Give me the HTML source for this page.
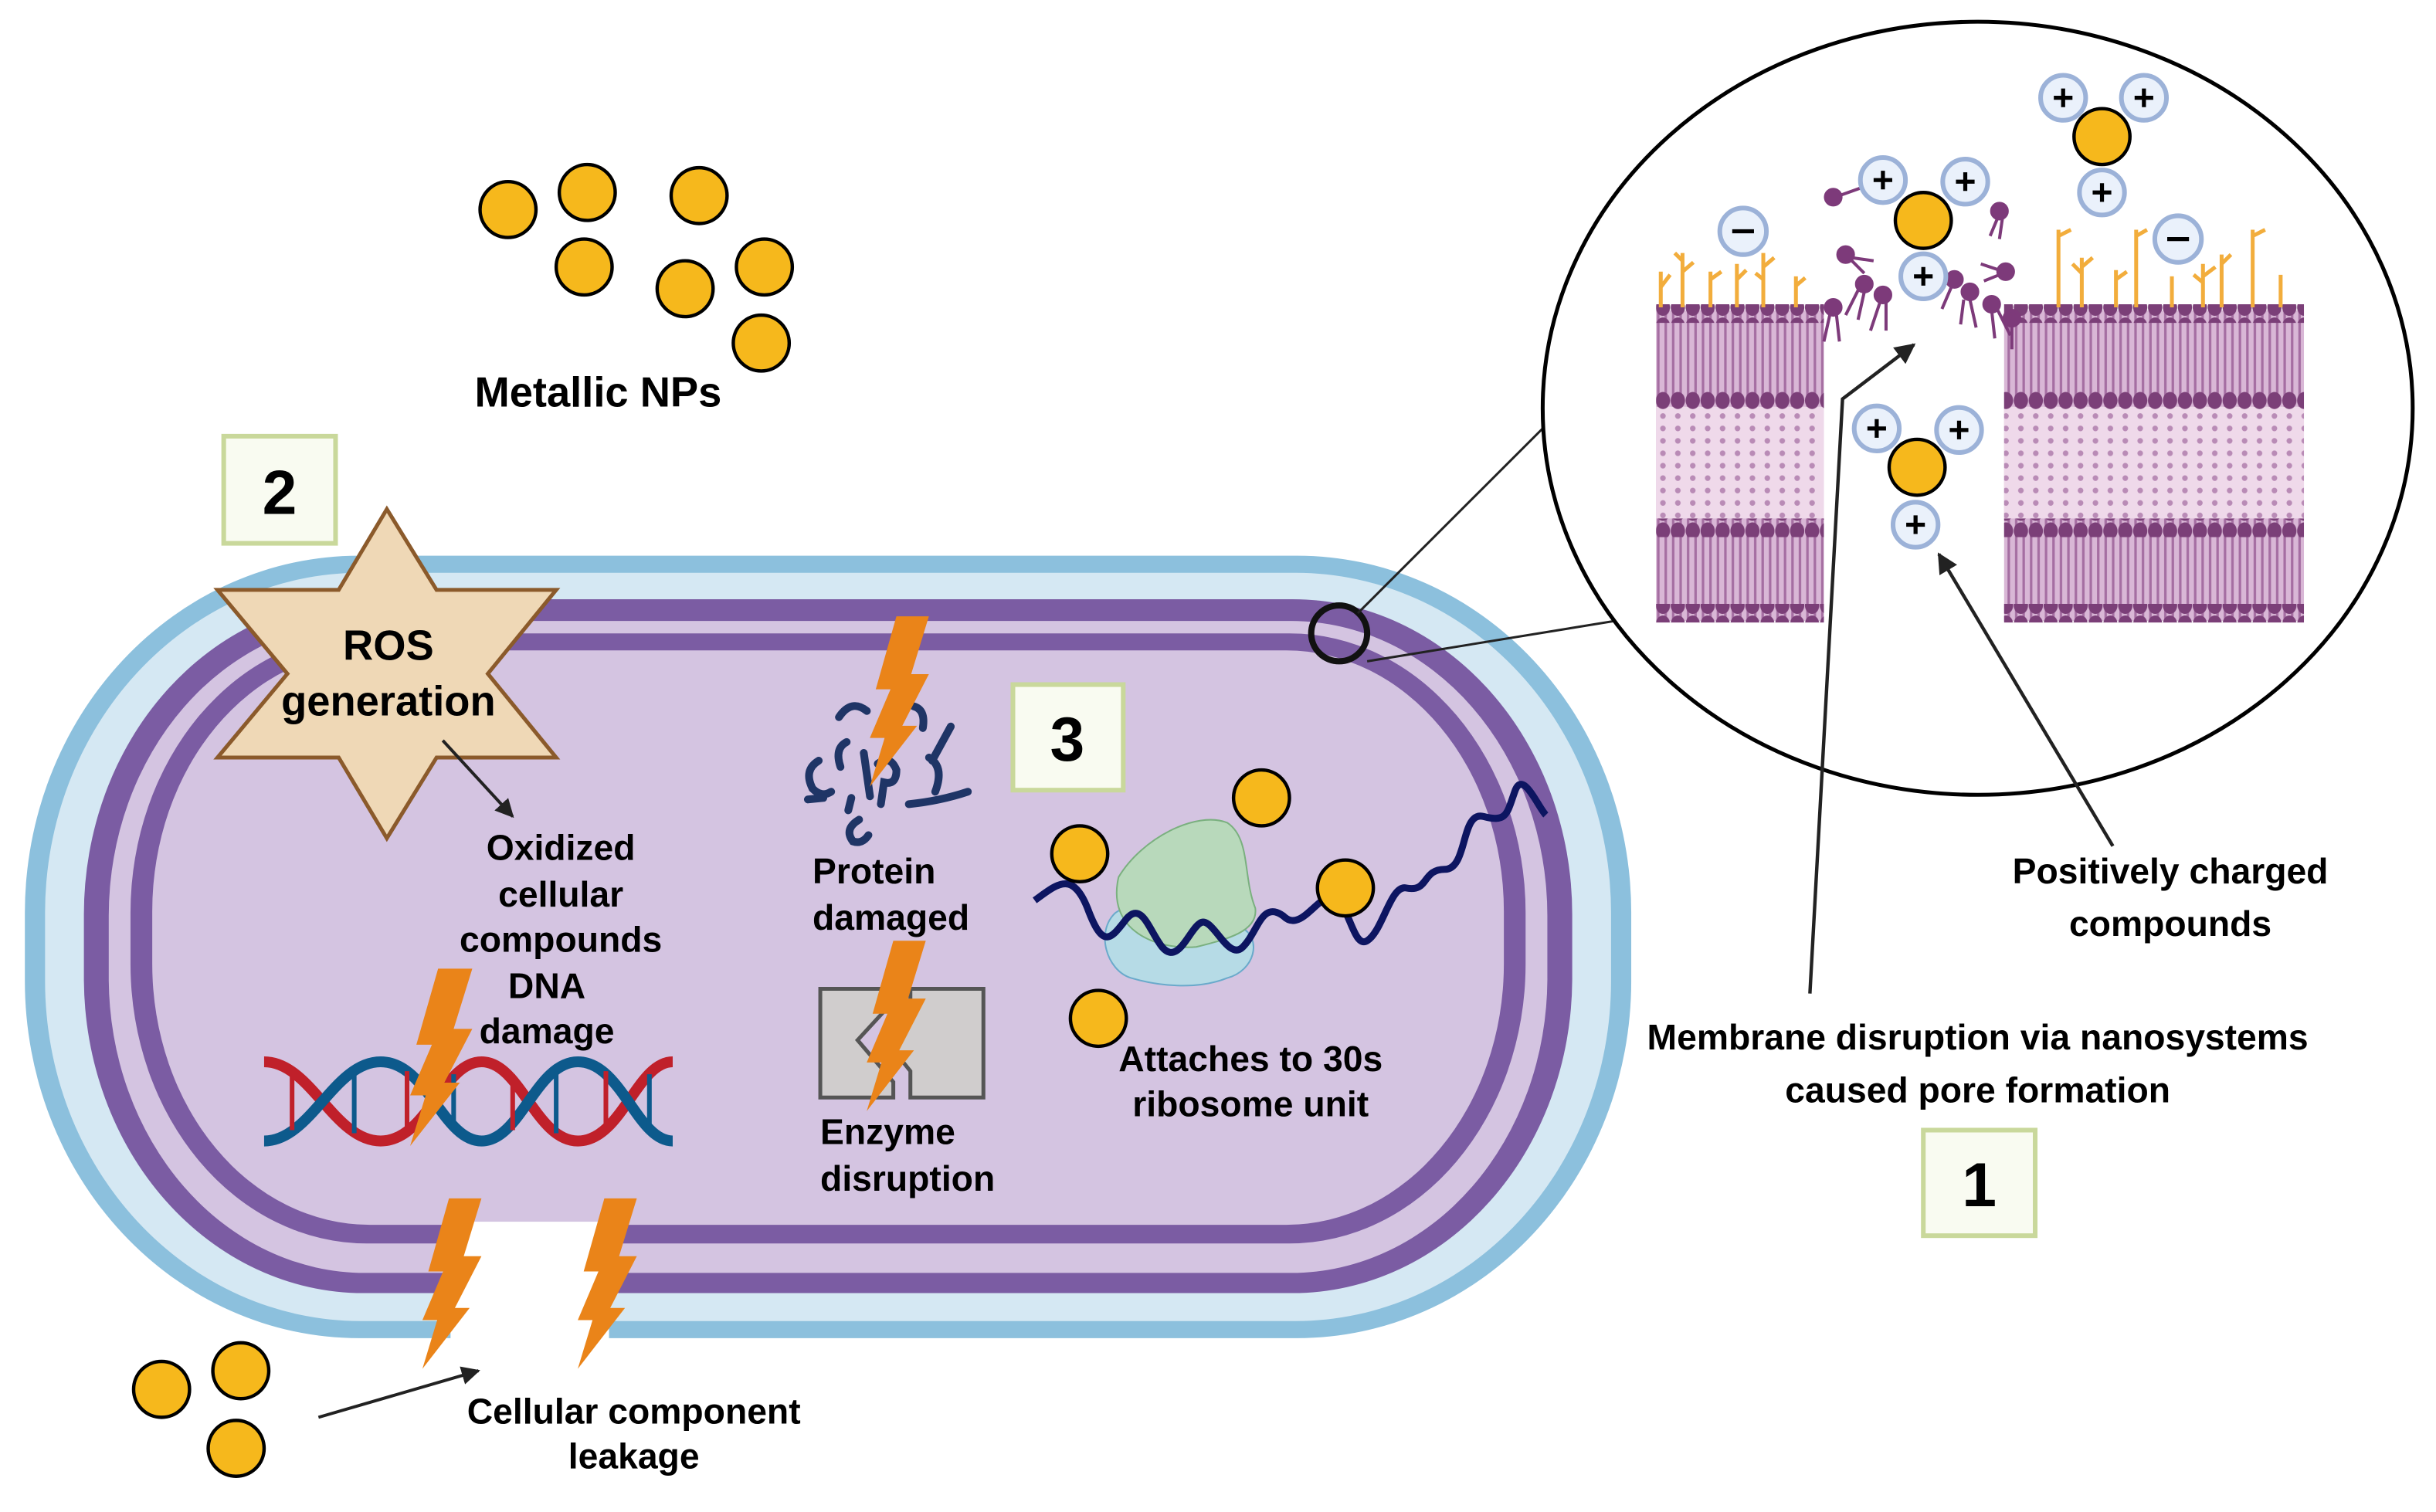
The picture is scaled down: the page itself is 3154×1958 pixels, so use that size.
<!DOCTYPE html>
<html><head><meta charset="utf-8">
<style>
html,body{margin:0;padding:0;background:#fff;}
svg{display:block;}
text{font-family:"Liberation Sans",sans-serif;font-weight:bold;fill:#000;}
</style></head>
<body>
<svg width="3154" height="1958" viewBox="0 0 1568 974" preserveAspectRatio="none" xmlns="http://www.w3.org/2000/svg">
<defs>
  <pattern id="heads" width="9.6" height="12" patternUnits="userSpaceOnUse">
    <ellipse cx="4.8" cy="6" rx="4.6" ry="5.5" fill="#7b3f78"/>
  </pattern>
  <pattern id="tails" width="4.8" height="10" patternUnits="userSpaceOnUse">
    <rect width="4.8" height="10" fill="#d9b7d6"/>
    <rect x="1" width="1.6" height="10" fill="#a56ea2"/>
  </pattern>
  <pattern id="mid" width="9.6" height="8" patternUnits="userSpaceOnUse">
    <rect width="9.6" height="8" fill="#efd9ea"/>
    <circle cx="4.8" cy="4" r="1.8" fill="#b98bb6"/>
  </pattern>
  <polygon id="bolt" points="20,0 42,0 30,38 42,38 24,72 34,72 2,112 12,80 2,80 16,48 6,48" fill="#ea8419"/>
  <g id="plus"><circle r="14.5" fill="#eaf1fb" stroke="#9cb2d8" stroke-width="3"/><path d="M-6,0H6M0,-6V6" stroke="#000" stroke-width="2.6"/></g>
  <g id="minus"><circle r="15" fill="#eaf1fb" stroke="#9cb2d8" stroke-width="3"/><path d="M-7,0H7" stroke="#000" stroke-width="2.6"/></g>
  <marker id="ah" viewBox="0 0 10 10" refX="9" refY="5" markerWidth="6" markerHeight="6" orient="auto">
    <path d="M0,0L10,5L0,10z" fill="#222"/>
  </marker>
</defs>

<!-- Metallic NPs -->
<g fill="#f6b81c" stroke="#000" stroke-width="2.2">
  <circle cx="327" cy="135" r="18"/><circle cx="378" cy="124" r="18"/><circle cx="376" cy="172" r="18"/>
  <circle cx="450" cy="126" r="18"/><circle cx="441" cy="186" r="18"/><circle cx="492" cy="172" r="18"/>
  <circle cx="490" cy="221" r="18"/>
</g>
<text x="385" y="262" font-size="27" text-anchor="middle">Metallic NPs</text>

<!-- Cell -->
<rect x="16" y="358" width="1034" height="504" rx="215" ry="230" fill="#8cc0dd"/>
<rect x="29" y="369" width="1008" height="482" rx="203" ry="219" fill="#d5e8f3"/>
<rect x="54" y="386" width="958" height="447" rx="180" ry="203" fill="#7b5ca3"/>
<rect x="70" y="400" width="926" height="420" rx="165" ry="190" fill="#d4c4e1"/>
<rect x="84" y="408" width="898" height="393" rx="152" ry="180" fill="#7b5ca3"/>
<rect x="98" y="419" width="870" height="370" rx="140" ry="168" fill="#d4c4e1"/>
<rect x="290" y="787" width="102" height="76" fill="#fff"/>

<!-- label boxes -->
<rect x="144" y="281" width="72" height="69" fill="#f9fbf1" stroke="#c9d89b" stroke-width="3"/>
<text x="180" y="331" font-size="40" text-anchor="middle">2</text>
<rect x="652" y="441" width="71" height="68" fill="#f9fbf1" stroke="#c9d89b" stroke-width="3"/>
<text x="687" y="490" font-size="40" text-anchor="middle">3</text>
<rect x="1238" y="728" width="72" height="68" fill="#f9fbf1" stroke="#c9d89b" stroke-width="3"/>
<text x="1274" y="777" font-size="40" text-anchor="middle">1</text>

<!-- Star -->
<polygon points="249,328 281,380 358,380 314,434 358,488 281,488 249,540 218,488 140,488 185,434 140,380 218,380" fill="#efd8b6" stroke="#8b5a2b" stroke-width="2.5"/>
<text x="250" y="425" font-size="27" text-anchor="middle">ROS</text>
<text x="250" y="461" font-size="27" text-anchor="middle">generation</text>
<line x1="285" y1="477" x2="330" y2="526" stroke="#222" stroke-width="2" marker-end="url(#ah)"/>

<g font-size="23" text-anchor="middle">
<text x="361" y="554">Oxidized</text>
<text x="361" y="584">cellular</text>
<text x="361" y="613">compounds</text>
<text x="352" y="643">DNA</text>
<text x="352" y="672">damage</text>
</g>

<!-- DNA -->
<g fill="none" stroke-width="7">
  <path d="M170,684 C200,684 215,735 245,735 C275,735 285,684 310,684 C335,684 345,735 372,735 C400,735 410,684 433,684" stroke="#c0202a"/>
  <path d="M170,735 C200,735 215,684 245,684 C275,684 285,735 310,735 C335,735 345,684 372,684 C400,684 410,735 433,735" stroke="#0d5a8c"/>
  <g stroke-width="3">
    <line x1="188" y1="692" x2="188" y2="728" stroke="#c0202a"/>
    <line x1="228" y1="690" x2="228" y2="730" stroke="#0d5a8c"/>
    <line x1="262" y1="690" x2="262" y2="730" stroke="#c0202a"/>
    <line x1="292" y1="692" x2="292" y2="728" stroke="#0d5a8c"/>
    <line x1="330" y1="692" x2="330" y2="728" stroke="#c0202a"/>
    <line x1="358" y1="690" x2="358" y2="730" stroke="#0d5a8c"/>
    <line x1="390" y1="690" x2="390" y2="730" stroke="#c0202a"/>
    <line x1="418" y1="692" x2="418" y2="728" stroke="#0d5a8c"/>
  </g>
</g>
<use href="#bolt" transform="translate(262,624) scale(1,1.02)"/>

<!-- protein damaged -->
<g fill="none" stroke="#1f3566" stroke-width="5" stroke-linecap="round">
  <path d="M540,462 q8,-12 18,-4"/><path d="M588,455 q8,2 6,14"/><path d="M612,468 l-12,22"/>
  <path d="M527,490 q-10,6 -4,18 q6,6 12,2"/><path d="M545,478 q-8,4 -4,16"/><path d="M556,485 l4,28"/>
  <path d="M565,492 q8,-6 12,4 q0,10 -8,8 l-2,14"/><path d="M598,488 q10,6 4,22"/>
  <path d="M548,514 q-2,8 -2,8"/><path d="M520,515 l10,-1"/><path d="M585,518 q20,-2 38,-8"/>
  <path d="M553,528 q-10,6 -4,14 q6,2 10,-4"/>
</g>
<use href="#bolt" transform="translate(558,397) scale(0.95,0.98)"/>
<text x="523" y="569" font-size="23">Protein</text>
<text x="523" y="599" font-size="23">damaged</text>

<!-- enzyme -->
<path d="M528,637 H575 V645 L552,670 L575,697 V707 H528 Z" fill="#d0cdcd" stroke="#555" stroke-width="2.5"/>
<path d="M633,637 H586 V650 L570,670 L586,690 V707 H633 Z" fill="#d0cdcd" stroke="#555" stroke-width="2.5"/>
<use href="#bolt" transform="translate(556,606) scale(0.95,0.98)"/>
<text x="528" y="737" font-size="23">Enzyme</text>
<text x="528" y="767" font-size="23">disruption</text>

<!-- ribosome -->
<path d="M728,630 C712,625 705,600 718,588 C735,575 780,595 800,598 C812,605 808,625 790,630 C770,638 745,635 728,630 Z" fill="#b6dbe6" stroke="#6aaacb" stroke-width="1"/>
<path d="M720,565 C735,540 770,522 790,530 C805,540 800,565 808,585 C810,600 790,605 770,610 C745,612 712,600 720,565 Z" fill="#b8d9bb" stroke="#7ab07f" stroke-width="1"/>
<path d="M666,580 C680,570 690,560 700,585 C710,612 715,605 725,592 C735,580 740,600 748,610 C758,622 765,600 772,595 C780,588 790,620 800,610 C810,600 812,580 826,590 C836,600 845,582 855,578 C868,575 870,612 880,606 C890,600 895,570 905,572 C920,575 915,560 930,560 C945,560 940,522 955,526 C970,530 970,524 975,510 C980,495 990,520 995,525" fill="none" stroke="#0d1561" stroke-width="4.5"/>
<g fill="#f6b81c" stroke="#000" stroke-width="2.2">
  <circle cx="695" cy="550" r="18"/><circle cx="812" cy="514" r="18"/><circle cx="866" cy="572" r="18"/><circle cx="707" cy="656" r="18"/>
</g>
<text x="805" y="690" font-size="23" text-anchor="middle">Attaches to 30s</text>
<text x="805" y="719" font-size="23" text-anchor="middle">ribosome unit</text>

<!-- leakage -->
<use href="#bolt" transform="translate(270,772) scale(0.95,0.98)"/>
<use href="#bolt" transform="translate(370,772) scale(0.95,0.98)"/>
<g fill="#f6b81c" stroke="#000" stroke-width="2.2">
  <circle cx="104" cy="895" r="18"/><circle cx="155" cy="883" r="18"/><circle cx="152" cy="933" r="18"/>
</g>
<line x1="205" y1="913" x2="308" y2="883" stroke="#222" stroke-width="2" marker-end="url(#ah)"/>
<text x="408" y="917" font-size="23" text-anchor="middle">Cellular component</text>
<text x="408" y="946" font-size="23" text-anchor="middle">leakage</text>

<!-- zoom indicator -->
<circle cx="862" cy="408" r="18" fill="none" stroke="#111" stroke-width="4"/>
<line x1="874" y1="395" x2="1064" y2="205" stroke="#222" stroke-width="1.5"/>
<line x1="880" y1="426" x2="1064" y2="396" stroke="#222" stroke-width="1.5"/>

<!-- big circle -->
<ellipse cx="1273" cy="263" rx="280" ry="249" fill="#fff" stroke="#000" stroke-width="2.5"/>

<!-- membranes -->
<g>
  <rect x="1066" y="200" width="108" height="200" fill="url(#tails)"/>
  <rect x="1066" y="262" width="108" height="72" fill="url(#mid)"/>
  <rect x="1066" y="196" width="108" height="12" fill="url(#heads)"/>
  <rect x="1066" y="252" width="108" height="12" fill="url(#heads)"/>
  <rect x="1066" y="334" width="108" height="12" fill="url(#heads)"/>
  <rect x="1066" y="389" width="108" height="12" fill="url(#heads)"/>

  <rect x="1290" y="200" width="193" height="200" fill="url(#tails)"/>
  <rect x="1290" y="262" width="193" height="72" fill="url(#mid)"/>
  <rect x="1290" y="196" width="193" height="12" fill="url(#heads)"/>
  <rect x="1290" y="252" width="193" height="12" fill="url(#heads)"/>
  <rect x="1290" y="334" width="193" height="12" fill="url(#heads)"/>
  <rect x="1290" y="389" width="193" height="12" fill="url(#heads)"/>
</g>
<!-- glycans -->
<g stroke="#f2ad3c" stroke-width="2.5" fill="none">
  <path d="M1069,198 V175 M1069,185 l6,-8"/><path d="M1083,198 V163 M1083,175 l7,-6 M1083,168 l-5,-5"/>
  <path d="M1101,198 V175 M1101,180 l7,-5"/><path d="M1118,198 V170 M1118,180 l6,-6"/>
  <path d="M1135,198 V163 M1135,172 l7,-6 M1135,180 l-5,-4"/><path d="M1156,198 V178 M1156,184 l6,-5"/>
  <path d="M1325,198 V148 M1325,152 l8,-4"/><path d="M1340,198 V166 M1340,172 l7,-6 M1340,176 l-6,-6"/>
  <path d="M1362,198 V174 M1362,180 l7,-5"/><path d="M1375,198 V148 M1375,152 l7,-4"/>
  <path d="M1398,198 V178"/><path d="M1418,198 V170 M1418,178 l8,-6 M1418,182 l-6,-5"/>
  <path d="M1430,198 V164 M1430,170 l6,-6"/><path d="M1450,198 V148 M1450,152 l8,-4"/><path d="M1468,198 V177"/>
</g>
<!-- disrupted lipids -->
<g fill="#7d3a7a" stroke="#7d3a7a" stroke-width="2">
  <circle cx="1180" cy="127" r="5"/><path d="M1184,126 l14,-5 l8,8" fill="none"/>
  <circle cx="1188" cy="164" r="5"/><path d="M1192,166 l14,2 M1192,168 l8,8" fill="none"/>
  <circle cx="1287" cy="136" r="5"/><path d="M1286,140 l-5,12 M1289,140 l-2,14" fill="none"/>
  <circle cx="1291" cy="175" r="5"/><path d="M1287,174 l-12,-4 M1287,177 l-10,4" fill="none"/>
  <circle cx="1200" cy="183" r="5"/><path d="M1196,187 l-8,16 M1200,188 l-4,18" fill="none"/>
  <circle cx="1212" cy="190" r="5"/><path d="M1210,195 l-6,18 M1214,195 l0,18" fill="none"/>
  <circle cx="1180" cy="198" r="5"/><path d="M1178,202 l-4,18 M1182,202 l2,18" fill="none"/>
  <circle cx="1268" cy="188" r="5"/><path d="M1268,193 l4,18 M1264,193 l-2,16" fill="none"/>
  <circle cx="1282" cy="196" r="5"/><path d="M1282,200 l2,18 M1286,200 l8,16" fill="none"/>
  <circle cx="1295" cy="205" r="5"/><path d="M1295,209 l0,16" fill="none"/>
  <circle cx="1258" cy="180" r="5"/><path d="M1256,185 l-6,14" fill="none"/>
</g>

<!-- ions -->
<use href="#plus" x="1212" y="116"/><use href="#plus" x="1265" y="117"/>
<circle cx="1238" cy="142" r="18" fill="#f6b81c" stroke="#000" stroke-width="2.2"/>
<use href="#plus" x="1238" y="178"/>
<use href="#plus" x="1328" y="63"/><use href="#plus" x="1380" y="63"/>
<circle cx="1353" cy="88" r="18" fill="#f6b81c" stroke="#000" stroke-width="2.2"/>
<use href="#plus" x="1353" y="124"/>
<use href="#plus" x="1208" y="276"/><use href="#plus" x="1261" y="277"/>
<circle cx="1234" cy="301" r="18" fill="#f6b81c" stroke="#000" stroke-width="2.2"/>
<use href="#plus" x="1233" y="338"/>
<use href="#minus" x="1122" y="149"/><use href="#minus" x="1402" y="154"/>

<!-- arrows -->
<polyline points="1165,640 1186,257 1232,222" fill="none" stroke="#222" stroke-width="2.2" marker-end="url(#ah)"/>
<line x1="1360" y1="545" x2="1248" y2="357" stroke="#222" stroke-width="2.2" marker-end="url(#ah)"/>

<g font-size="23" text-anchor="middle">
<text x="1397" y="569">Positively charged</text>
<text x="1397" y="603">compounds</text>
<text x="1273" y="676">Membrane disruption via nanosystems</text>
<text x="1273" y="710">caused pore formation</text>
</g>
</svg>
</body></html>
